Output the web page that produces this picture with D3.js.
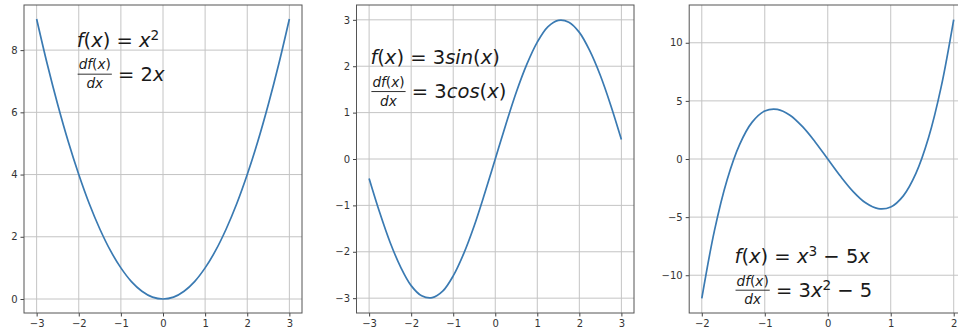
<!DOCTYPE html>
<html>
<head>
<meta charset="utf-8">
<script src="https://cdn.jsdelivr.net/npm/d3@7"></script>
<style>
  body { margin: 0; background: #fff; }
  svg { display: block; }
</style>
</head>
<body>
<svg id="chart"></svg>
<script>
// Values
const x1 = [-3, -2.75, -2.5, -2.25, -2, -1.75, -1.5, -1.25, -1, -0.75, -0.5, -0.25, 0,
  0.25, 0.5, 0.75, 1, 1.25, 1.5, 1.75, 2, 2.25, 2.5, 2.75, 3];
const y1 = [9, 7.56, 6.25, 5.06, 4, 3.06, 2.25, 1.56, 1, 0.56, 0.25, 0.06, 0,
  0.06, 0.25, 0.56, 1, 1.56, 2.25, 3.06, 4, 5.06, 6.25, 7.56, 9];

const x2 = x1;
const y2 = [-0.42, -1.15, -1.8, -2.33, -2.73, -2.95, -2.99, -2.85, -2.52, -2.04, -1.44, -0.74, 0,
  0.74, 1.44, 2.04, 2.52, 2.85, 2.99, 2.95, 2.73, 2.33, 1.8, 1.15, 0.42];

const x3 = [-2, -1.8, -1.6, -1.4, -1.2, -1, -0.8, -0.6, -0.4, -0.2, 0,
  0.2, 0.4, 0.6, 0.8, 1, 1.2, 1.4, 1.6, 1.8, 2];
const y3 = [-12, -6.18, -1.82, 1.24, 3.17, 4.13, 4.27, 3.77, 2.78, 1.47, 0,
  -1.47, -2.78, -3.77, -4.27, -4.13, -3.17, -1.24, 1.82, 6.18, 12];

const xTicks1 = [-3, -2, -1, 0, 1, 2, 3];
const yTicks1 = [0, 2, 4, 6, 8];
const xTicks2 = [-3, -2, -1, 0, 1, 2, 3];
const yTicks2 = [-3, -2, -1, 0, 1, 2, 3];
const xTicks3 = [-2, -1, 0, 1, 2];
const yTicks3 = [-10, -5, 0, 5, 10];

// formula texts: first line, fraction numerator, denominator, rest of second line
const label1 = ["f(x) = x^2", "df(x)", "dx", " = 2x"];
const label2 = ["f(x) = 3sin(x)", "df(x)", "dx", " = 3cos(x)"];
const label3 = ["f(x) = x^3 \u2212 5x", "df(x)", "dx", " = 3x^2 \u2212 5"];

const W = 958, H = 331;
const plotTop = 5, plotBottom = 313;

const panels = [
  { left: 24, right: 302, xDomain: [-3.3, 3.3], yDomain: [-0.45, 9.45],
    xs: x1, ys: y1, xTicks: xTicks1, yTicks: yTicks1, label: label1, at: [-2.05, 8.1] },
  { left: 356.5, right: 634, xDomain: [-3.3, 3.3], yDomain: [-3.32, 3.32],
    xs: x2, ys: y2, xTicks: xTicks2, yTicks: yTicks2, label: label2, at: [-2.97, 2.04] },
  { left: 689.2, right: 966.3, xDomain: [-2.2, 2.2], yDomain: [-13.25, 13.25],
    xs: x3, ys: y3, xTicks: xTicks3, yTicks: yTicks3, label: label3, at: [-1.48, -8.95] }
];

const svg = d3.select("#chart").attr("width", W).attr("height", H);
svg.append("rect").attr("width", W).attr("height", H).attr("fill", "#fff");

const FONT = "DejaVu Sans";
const MATH = 19.5;

// draw a mathtext-like run: letters italic, ^c superscript
function mathText(g, x, y, str, size) {
  const t = g.append("text")
    .attr("x", x).attr("y", y)
    .attr("font-family", FONT)
    .style("font-size", size + "px")
    .style("white-space", "pre")
    .attr("fill", "#1a1a1a");
  const tokens = [];
  for (let i = 0; i < str.length; i++) {
    let c = str[i], sup = false;
    if (c === "^") { sup = true; c = str[++i]; }
    const it = /[a-z]/.test(c);
    const last = tokens[tokens.length - 1];
    if (last && last.sup === sup && last.it === it) last.s += c;
    else tokens.push({ s: c, sup, it });
  }
  let cur = 0;
  tokens.forEach((tk) => {
    const target = tk.sup ? -0.36 * size : 0;
    t.append("tspan")
      .attr("dy", target - cur)
      .style("font-style", tk.it ? "italic" : "normal")
      .style("font-size", (tk.sup ? 0.7 * size : size) + "px")
      .text(tk.s);
    cur = target;
  });
  return t;
}

function drawLabel(g, x, y, lab) {
  mathText(g, x, y, lab[0], MATH);
  const y2 = y + 34;
  const bar = y2 - 0.35 * MATH;
  const small = 0.7 * MATH;
  const num = mathText(g, 0, bar - 0.24 * MATH, lab[1], small);
  const den = mathText(g, 0, bar + 0.72 * MATH, lab[2], small);
  const nw = num.node().getComputedTextLength();
  const dw = den.node().getComputedTextLength();
  const bw = Math.max(nw, dw) + 2;
  num.attr("x", x + 1 + (bw - nw) / 2);
  den.attr("x", x + 1 + (bw - dw) / 2);
  g.append("line")
    .attr("x1", x + 1).attr("x2", x + 1 + bw)
    .attr("y1", bar).attr("y2", bar)
    .attr("stroke", "#1a1a1a").attr("stroke-width", 0.9);
  mathText(g, x + 1 + bw, y2, lab[3], MATH);
}

panels.forEach((p) => {
  const xScale = d3.scaleLinear().domain(p.xDomain).range([p.left, p.right]);
  const yScale = d3.scaleLinear().domain(p.yDomain).range([plotBottom, plotTop]);
  const g = svg.append("g");

  // grid
  g.selectAll(".gx").data(p.xTicks).enter().append("line")
    .attr("x1", (d) => xScale(d)).attr("x2", (d) => xScale(d))
    .attr("y1", plotTop).attr("y2", plotBottom)
    .attr("stroke", "#c4c4c4").attr("stroke-width", 1);
  g.selectAll(".gy").data(p.yTicks).enter().append("line")
    .attr("x1", p.left).attr("x2", p.right)
    .attr("y1", (d) => yScale(d)).attr("y2", (d) => yScale(d))
    .attr("stroke", "#c4c4c4").attr("stroke-width", 1);

  // curve
  const line = d3.line()
    .x((d, i) => xScale(p.xs[i]))
    .y((d) => yScale(d))
    .curve(d3.curveCatmullRom);
  g.append("path")
    .attr("d", line(p.ys))
    .attr("fill", "none")
    .attr("stroke", "#3a7ab2")
    .attr("stroke-width", 1.7);

  // axes
  const fmt = d3.format("d");
  const ax = g.append("g")
    .attr("transform", `translate(0, ${plotBottom})`)
    .call(d3.axisBottom(xScale).tickValues(p.xTicks).tickFormat(fmt).tickSize(3.5).tickPadding(3));
  const ay = g.append("g")
    .attr("transform", `translate(${p.left}, 0)`)
    .call(d3.axisLeft(yScale).tickValues(p.yTicks).tickFormat(fmt).tickSize(3.5).tickPadding(3));
  [ax, ay].forEach((a) => {
    a.select(".domain").remove();
    a.selectAll("line").attr("stroke", "#444");
    a.selectAll("text")
      .attr("font-family", FONT)
      .style("font-size", "10px")
      .attr("fill", "#333");
  });

  // spines
  g.append("rect")
    .attr("x", p.left).attr("y", plotTop)
    .attr("width", p.right - p.left).attr("height", plotBottom - plotTop)
    .attr("fill", "none")
    .attr("stroke", "#555")
    .attr("stroke-width", 1);

  drawLabel(g, xScale(p.at[0]), yScale(p.at[1]), p.label);
});
</script>
</body>
</html>
